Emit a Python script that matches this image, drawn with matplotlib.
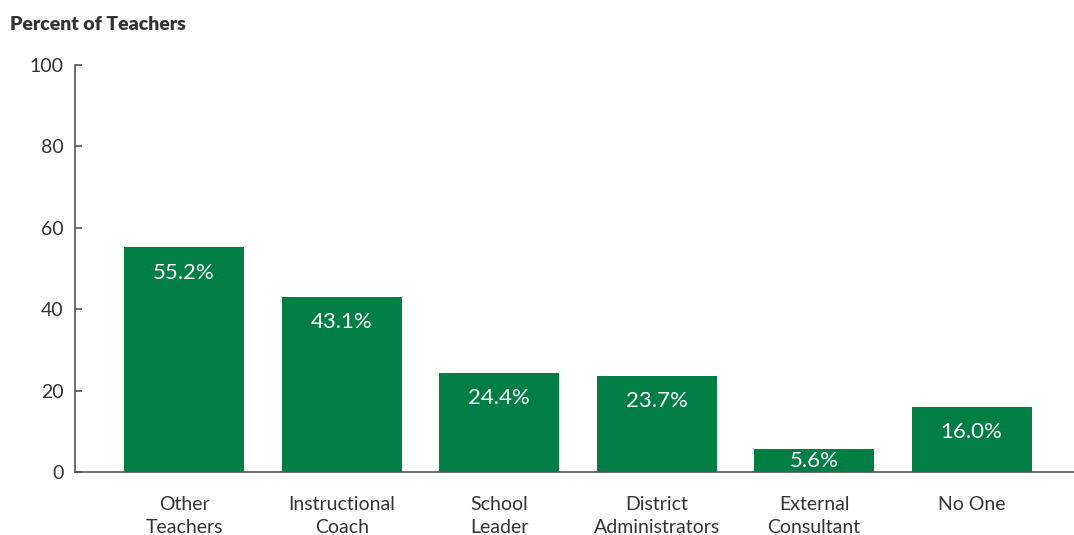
import matplotlib

matplotlib.use("Agg")
import matplotlib.pyplot as plt

categories = ["Other\nTeachers", "Instructional\nCoach", "School\nLeader",
              "District\nAdministrators", "External\nConsultant", "No One"]
percents = [55.2, 43.1, 24.4, 23.7, 5.6, 16.0]
yticks = [0, 20, 40, 60, 80, 100]

GREEN = "#007f45"
TEXT = "#333333"
AXIS = "#555555"

plt.rcParams["font.family"] = ["Lato", "DejaVu Sans"]

fig = plt.figure(figsize=(10.74, 5.35), dpi=100)
ax = fig.add_axes([75 / 1074, 63 / 535, 1 - 75 / 1074, 407 / 535])

x = list(range(len(categories)))
bars = ax.bar(x, percents, width=0.762, color=GREEN, zorder=2)

for xi, v in zip(x, percents):
    if v < 8:
        ax.text(xi, v / 2, f"{v:.1f}%", ha="center", va="center",
                color="white", fontsize=16)
    else:
        ax.annotate(f"{v:.1f}%", (xi, v), xytext=(0, -11),
                    textcoords="offset points", ha="center", va="top",
                    color="white", fontsize=16)

ax.set_xlim(-0.693, 5.65)
ax.set_ylim(0, 100)
ax.set_yticks(yticks)
ax.set_xticks(x)
ax.set_xticklabels(categories, fontsize=14, color=TEXT, linespacing=1.45)
ax.tick_params(axis="x", length=0, pad=17)
ax.tick_params(axis="y", direction="in", length=5, width=1.2, color=AXIS,
               labelsize=14, labelcolor=TEXT, pad=8)

for side in ("top", "right"):
    ax.spines[side].set_visible(False)
for side in ("left", "bottom"):
    ax.spines[side].set_color(AXIS)
    ax.spines[side].set_linewidth(1.2)

fig.text(10 / 1074, 1 - 25 / 535, "Percent of Teachers", fontsize=14,
         fontweight="heavy", color=TEXT, ha="left", va="center")

fig.savefig("out.png", dpi=100)
